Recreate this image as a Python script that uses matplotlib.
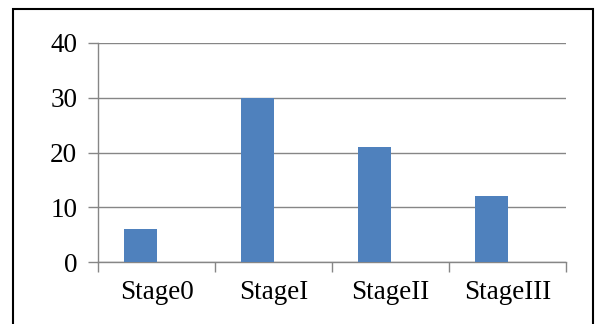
import matplotlib
matplotlib.use("Agg")
import matplotlib.pyplot as plt
from matplotlib.patches import Rectangle

# 数据
stages = ["Stage0", "StageI", "StageII", "StageIII"]
counts = [6, 30, 21, 12]
yticks = [0, 10, 20, 30, 40]

W, H = 598, 324
fig = plt.figure(figsize=(W / 100, H / 100), dpi=100)
fig.patch.set_facecolor("white")
ax = fig.add_axes([98 / W, 1 - 262 / H, (566 - 98) / W, (262 - 43) / H])

bar_w = 0.28
xs = list(range(len(stages)))
ax.bar([x - bar_w for x in xs], counts, width=bar_w, align="edge",
       color="#4F81BD", zorder=3)

gray = "#868686"
ax.set_xlim(-0.5, len(stages) - 0.5)
ax.set_ylim(0, 40)
ax.set_yticks(yticks)
ax.yaxis.grid(True, color=gray, linewidth=1.0, zorder=0)
ax.set_axisbelow(True)

ax.set_xticks(xs)
ax.set_xticklabels(stages)
ax.set_xticks([x - 0.5 for x in range(len(stages) + 1)], minor=True)
ax.tick_params(axis="x", which="major", length=0, pad=13)
ax.tick_params(axis="x", which="minor", length=7, width=1, color=gray)
ax.tick_params(axis="y", length=7, width=1, color=gray, pad=8)

for lab in ax.get_xticklabels() + ax.get_yticklabels():
    lab.set_fontfamily("Liberation Serif")
    lab.set_fontsize(19.5)
    lab.set_color("black")

for s in ["top", "right"]:
    ax.spines[s].set_visible(False)
for s in ["left", "bottom"]:
    ax.spines[s].set_color(gray)
    ax.spines[s].set_linewidth(1.0)

# 外框
fig.patches.append(Rectangle((13 / W, -0.1), (593 - 13) / W, 1.1 - 9 / H,
                             transform=fig.transFigure, fill=False,
                             edgecolor="black", linewidth=1.5))

fig.savefig("out.png", dpi=100)
